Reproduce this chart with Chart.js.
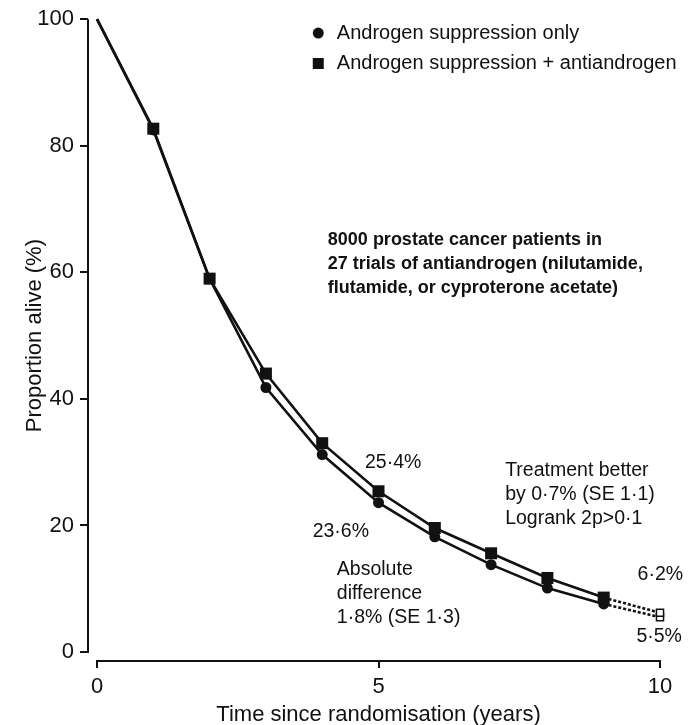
<!DOCTYPE html>
<html>
<head>
<meta charset="utf-8">
<script src="https://cdn.jsdelivr.net/npm/chart.js@4"></script>
<style>
  html, body { margin: 0; padding: 0; background: #fff; }
  #wrap { width: 689px; height: 725px; }
</style>
</head>
<body>
<div id="wrap"><canvas id="c" width="689" height="725"></canvas></div>
<script>
// Survival by year since randomisation (%)
const years = [0, 1, 2, 3, 4, 5, 6, 7, 8, 9, 10];
const suppressionOnly = [100, 82.5, 59, 41.8, 31.2, 23.6, 18.2, 13.8, 10.1, 7.6, 5.5];
const suppressionPlusAnti = [100, 82.7, 59, 44.0, 33.0, 25.4, 19.6, 15.6, 11.7, 8.6, 6.2];
const seriesNames = ['Androgen suppression only', 'Androgen suppression + antiandrogen'];
const xTickValues = [0, 5, 10];
const yTickValues = [0, 20, 40, 60, 80, 100];

const INK = '#111';
const FONT = "'Liberation Sans', Arial, sans-serif";
const lastIdx = years.length - 1;

function toPoints(vals) {
  return years.map((x, i) => ({ x: x, y: vals[i] }));
}

// markers: none at the origin, filled through year 9, open at year 10
function markerArray(filled, open, none) {
  return years.map((_, i) => i === 0 ? none : (i === lastIdx ? open : filled));
}

const dashLast = {
  borderDash: ctx => ctx.p1DataIndex === lastIdx ? [3, 2] : undefined
};

const datasets = [
  {
    label: seriesNames[1],
    data: toPoints(suppressionPlusAnti),
    borderColor: INK,
    borderWidth: 2.6,
    tension: 0,
    clip: false,
    pointStyle: 'rect',
    pointRadius: markerArray(8.5, 5, 0),
    pointBorderWidth: markerArray(0, 1.5, 0),
    pointBorderColor: INK,
    pointBackgroundColor: markerArray(INK, '#fff', INK),
    segment: dashLast
  },
  {
    label: seriesNames[0],
    data: toPoints(suppressionOnly),
    borderColor: INK,
    borderWidth: 2.6,
    tension: 0,
    clip: false,
    pointStyle: markerArray('circle', 'rect', 'circle'),
    pointRadius: markerArray(5.5, 5, 0),
    pointBorderWidth: markerArray(0, 1.5, 0),
    pointBorderColor: INK,
    pointBackgroundColor: markerArray(INK, '#fff', INK),
    segment: dashLast
  }
];

// text placed in data coordinates
const notes = [
  { text: '25·4%', x: 4.76, y: 29.9, align: 'left' },
  { text: '23·6%', x: 3.83, y: 19.1, align: 'left' },
  { text: 'Absolute', x: 4.26, y: 13.0, align: 'left' },
  { text: 'difference', x: 4.26, y: 9.3, align: 'left' },
  { text: '1·8% (SE 1·3)', x: 4.26, y: 5.4, align: 'left' },
  { text: 'Treatment better', x: 7.25, y: 28.6, align: 'left' },
  { text: 'by 0·7% (SE 1·1)', x: 7.25, y: 24.8, align: 'left' },
  { text: 'Logrank 2p>0·1', x: 7.25, y: 21.0, align: 'left' },
  { text: '6·2%', x: 10.41, y: 12.3, align: 'right' },
  { text: '5·5%', x: 10.39, y: 2.5, align: 'right' },
  { text: '8000 prostate cancer patients in', x: 4.1, y: 65.1, align: 'left', bold: true },
  { text: '27 trials of antiandrogen (nilutamide,', x: 4.1, y: 61.3, align: 'left', bold: true },
  { text: 'flutamide, or cyproterone acetate)', x: 4.1, y: 57.5, align: 'left', bold: true }
];

const decorations = {
  id: 'decorations',
  beforeDatasetsDraw(chart) {
    const { ctx, chartArea, scales } = chart;
    const xs = scales.x, ys = scales.y;
    ctx.save();
    ctx.strokeStyle = INK;
    ctx.lineWidth = 2;
    // axis lines span only the data range
    ctx.beginPath();
    ctx.moveTo(chartArea.left, ys.getPixelForValue(100));
    ctx.lineTo(chartArea.left, ys.getPixelForValue(0) + 1);
    ctx.moveTo(xs.getPixelForValue(0) - 1, chartArea.bottom);
    ctx.lineTo(xs.getPixelForValue(10) + 1, chartArea.bottom);
    ctx.stroke();
    ctx.restore();
  },
  afterDraw(chart) {
    const { ctx, scales } = chart;
    const xs = scales.x, ys = scales.y;
    ctx.save();
    ctx.fillStyle = INK;

    // axis titles
    ctx.font = '22px ' + FONT;
    ctx.textAlign = 'center';
    ctx.textBaseline = 'middle';
    ctx.fillText('Time since randomisation (years)', (xs.getPixelForValue(0) + xs.getPixelForValue(10)) / 2, 715);
    ctx.save();
    ctx.translate(35, (ys.getPixelForValue(0) + ys.getPixelForValue(100)) / 2);
    ctx.rotate(-Math.PI / 2);
    ctx.fillText('Proportion alive (%)', 0, 0);
    ctx.restore();

    // annotations
    notes.forEach(n => {
      ctx.font = (n.bold ? 'bold 18px ' : '19.5px ') + FONT;
      ctx.textAlign = n.align;
      ctx.textBaseline = 'middle';
      ctx.fillText(n.text, xs.getPixelForValue(n.x), ys.getPixelForValue(n.y));
    });

    // legend
    const lx = xs.getPixelForValue(3.93);
    const tx = xs.getPixelForValue(4.26);
    const ly1 = ys.getPixelForValue(97.8);
    const ly2 = ys.getPixelForValue(93.0);
    ctx.beginPath();
    ctx.arc(lx, ly1, 5.5, 0, Math.PI * 2);
    ctx.fill();
    ctx.fillRect(lx - 5.5, ly2 - 5.5, 11, 11);
    ctx.font = '20px ' + FONT;
    ctx.textAlign = 'left';
    ctx.fillText(seriesNames[0], tx, ly1);
    ctx.fillText(seriesNames[1], tx, ly2);
    ctx.restore();
  }
};

new Chart(document.getElementById('c'), {
  type: 'line',
  data: { datasets: datasets },
  plugins: [decorations],
  options: {
    responsive: false,
    animation: false,
    devicePixelRatio: 1,
    layout: { padding: { top: 19, right: 29, left: 0, bottom: 0 } },
    plugins: { legend: { display: false }, tooltip: { enabled: false } },
    scales: {
      x: {
        type: 'linear',
        min: -0.16,
        max: 10,
        afterBuildTicks: s => { s.ticks = xTickValues.map(v => ({ value: v })); },
        afterFit: s => { s.height = 64; },
        border: { display: false },
        grid: { drawOnChartArea: false, drawTicks: true, tickLength: 7, color: INK, lineWidth: 2 },
        ticks: { color: INK, font: { family: FONT, size: 22 }, padding: 6, maxRotation: 0 }
      },
      y: {
        type: 'linear',
        min: -1.42,
        max: 100,
        afterBuildTicks: s => { s.ticks = yTickValues.map(v => ({ value: v })); },
        afterFit: s => { s.width = 88; },
        border: { display: false },
        grid: { drawOnChartArea: false, drawTicks: true, tickLength: 8, color: INK, lineWidth: 2 },
        ticks: { color: INK, font: { family: FONT, size: 22 }, padding: 6 }
      }
    }
  }
});
</script>
</body>
</html>
